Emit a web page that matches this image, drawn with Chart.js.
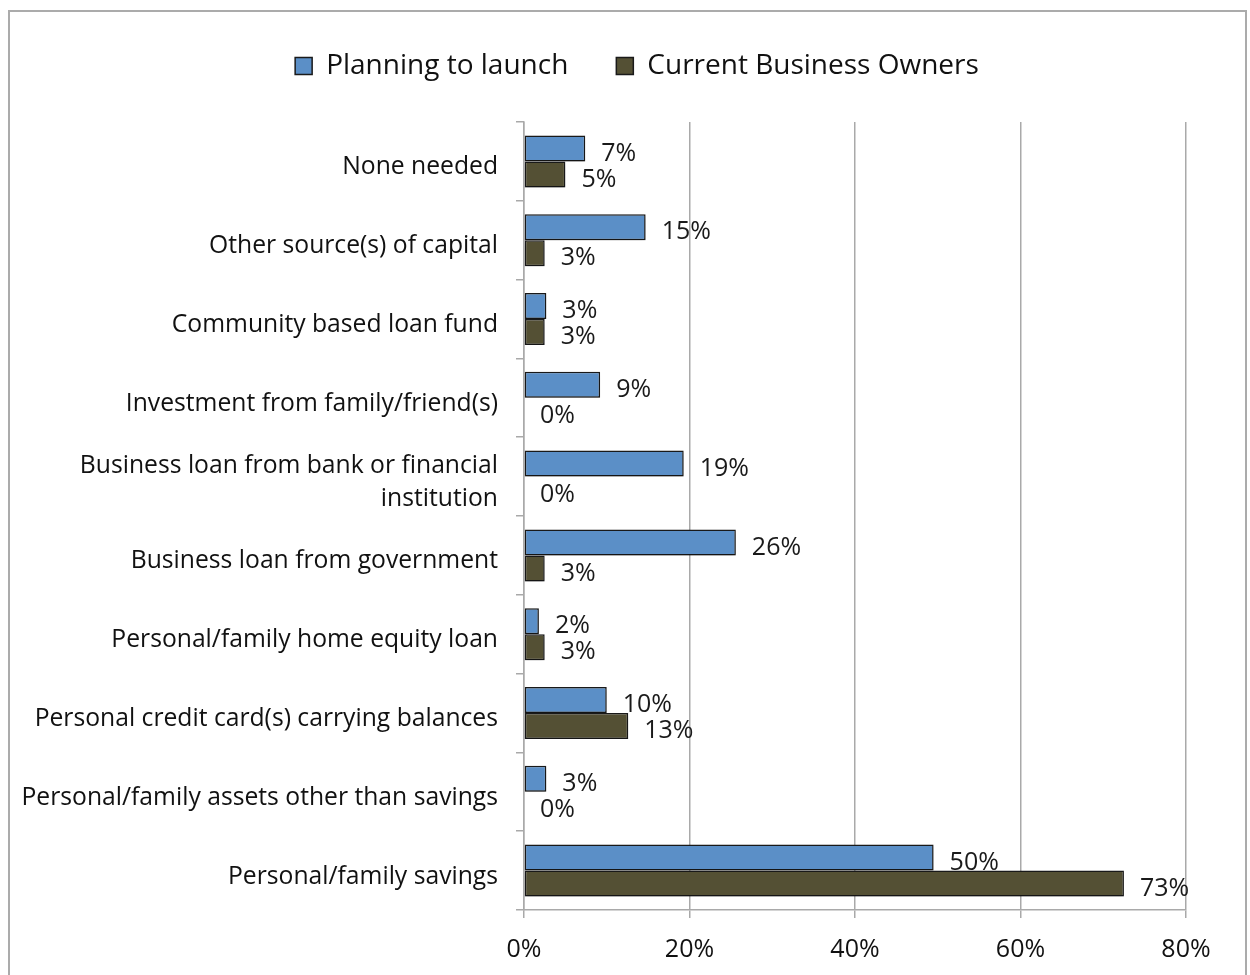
<!DOCTYPE html>
<html lang="en">
<head>
    <meta charset="UTF-8">
    <title>Sources of capital</title>
    <script src="https://cdn.jsdelivr.net/npm/chart.js"></script>
    <style>
        html, body { margin: 0; padding: 0; background: #fff; }
        .caixa { position: relative; width: 1250px; height: 975px; }
    </style>
</head>
<body>
    <div class="caixa">
        <canvas id="myChart" width="1250" height="975"></canvas>
    </div>
<script>
    // categorias de cima para baixo
    const categorias = [
        "None needed",
        "Other source(s) of capital",
        "Community based loan fund",
        "Investment from family/friend(s)",
        ["Business loan from bank or financial", "institution"],
        "Business loan from government",
        "Personal/family home equity loan",
        "Personal credit card(s) carrying balances",
        "Personal/family assets other than savings",
        "Personal/family savings"
    ];
    const planejando = [7.4, 14.7, 2.7, 9.2, 19.3, 25.6, 1.8, 10.0, 2.7, 49.5];
    const donos = [5.0, 2.5, 2.5, 0, 0, 2.5, 2.5, 12.6, 0, 72.5];
    const ticksX = [0, 20, 40, 60, 80];

    const fonte = "'Open Sans', Lato, sans-serif";

    // moldura cinza em volta do grafico
    const moldura = {
        id: 'moldura',
        beforeDraw(chart) {
            const ctx = chart.ctx;
            ctx.save();
            ctx.fillStyle = '#fff';
            ctx.fillRect(0, 0, chart.width, chart.height);
            ctx.strokeStyle = '#ababab';
            ctx.lineWidth = 2;
            ctx.strokeRect(9, 11, 1237, 1000);
            ctx.restore();
        }
    };

    // espaco extra embaixo da legenda, legenda deslocada para a direita
    const legendaAjuste = {
        id: 'legendaAjuste',
        beforeInit(chart) {
            const fitOriginal = chart.legend.fit;
            chart.legend.fit = function () {
                fitOriginal.bind(chart.legend)();
                this.height += 36;
            };
        },
        afterLayout(chart) {
            chart.legend.left = 88;
            chart.legend.top = 4;
        }
    };

    // sombra leve nas barras
    const sombra = {
        id: 'sombra',
        beforeDatasetsDraw(chart) {
            const ctx = chart.ctx;
            ctx.save();
            ctx.shadowColor = 'rgba(0,0,0,0.25)';
            ctx.shadowBlur = 4;
            ctx.shadowOffsetY = 3;
        },
        afterDatasetsDraw(chart) {
            chart.ctx.restore();
        }
    };

    // rotulos de valor no fim de cada barra
    const rotulos = {
        id: 'rotulos',
        afterDatasetsDraw(chart) {
            const ctx = chart.ctx;
            ctx.save();
            ctx.font = "25px " + fonte;
            ctx.fillStyle = '#1a1a1a';
            ctx.textAlign = 'left';
            ctx.textBaseline = 'middle';
            chart.data.datasets.forEach(function (ds, i) {
                const meta = chart.getDatasetMeta(i);
                meta.data.forEach(function (bar, j) {
                    const v = ds.data[j];
                    ctx.fillText(Math.round(v) + '%', bar.x + 16, bar.y + 5);
                });
            });
            ctx.restore();
        }
    };

    const dados = {
        labels: categorias,
        datasets: [{
            label: "Planning to launch",
            data: planejando,
            backgroundColor: '#5b8fc7',
            borderColor: '#1a1a1a',
            borderWidth: 1.5,
            borderSkipped: false
        }, {
            label: "Current Business Owners",
            data: donos,
            backgroundColor: '#545034',
            borderColor: '#1a1a1a',
            borderWidth: 1.5,
            borderSkipped: false
        }]
    };

    const config = {
        type: 'bar',
        data: dados,
        plugins: [moldura, legendaAjuste, sombra, rotulos],
        options: {
            indexAxis: 'y',
            responsive: false,
            animation: false,
            layout: { padding: { left: 0, right: 64, top: 0, bottom: 0 } },
            datasets: { bar: { categoryPercentage: 0.66, barPercentage: 1.0 } },
            plugins: {
                tooltip: { enabled: false },
                legend: {
                    position: 'top',
                    labels: {
                        font: { size: 28, family: fonte },
                        color: '#111',
                        boxWidth: 17,
                        boxHeight: 17,
                        padding: 48
                    }
                }
            },
            scales: {
                x: {
                    min: 0,
                    max: 80,
                    afterBuildTicks(scale) {
                        scale.ticks = ticksX.map(function (v) { return { value: v }; });
                    },
                    afterFit(scale) { scale.height = 65; },
                    ticks: {
                        callback: function (v) { return v + '%'; },
                        font: { size: 25, family: fonte },
                        color: '#111',
                        padding: 17
                    },
                    grid: {
                        color: '#a9a9a9',
                        lineWidth: 1.5,
                        tickLength: 8
                    },
                    border: { color: '#a9a9a9', width: 1.5 }
                },
                y: {
                    afterFit(scale) { scale.width = 524; },
                    ticks: {
                        font: { size: 24.7, family: fonte, lineHeight: 1.32 },
                        color: '#111',
                        padding: 18,
                        labelOffset: 6
                    },
                    grid: {
                        offset: true,
                        drawOnChartArea: false,
                        color: '#a9a9a9',
                        lineWidth: 1.5,
                        tickLength: 8
                    },
                    border: { color: '#a9a9a9', width: 1.5 }
                }
            }
        }
    };

    let myChart = new Chart(document.getElementById('myChart'), config);
</script>
</body>
</html>
